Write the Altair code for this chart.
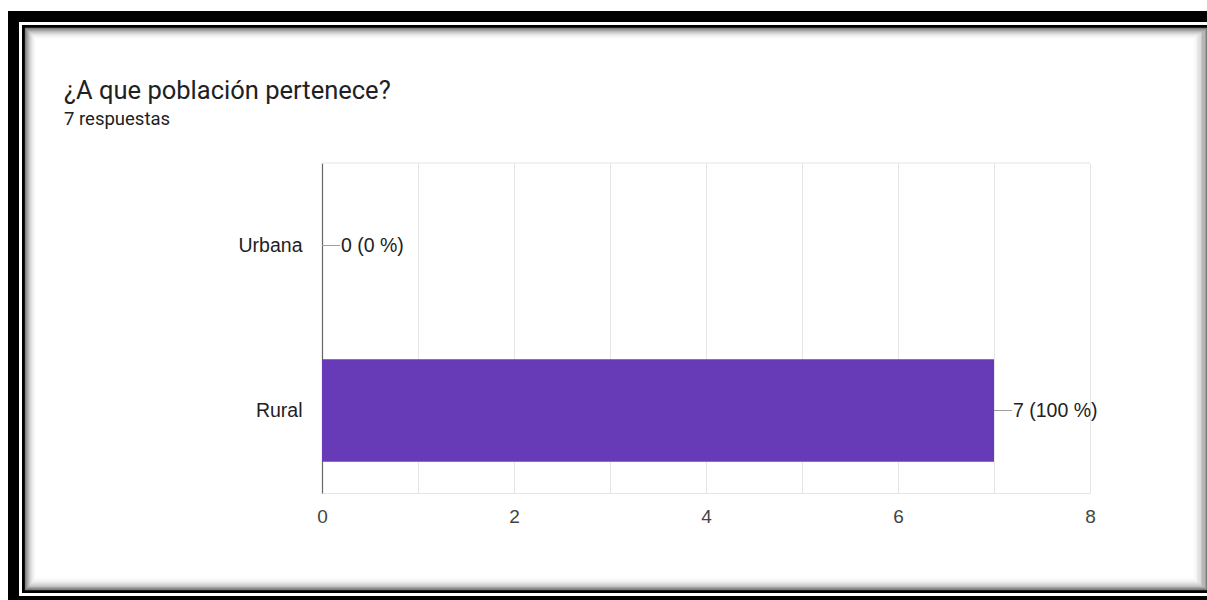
import altair as alt
import pandas as pd

# Survey answers
categories = ["Urbana", "Rural"]
counts = [0, 7]
percents = [0, 100]
x_ticks = [0, 1, 2, 3, 4, 5, 6, 7, 8]

title_text = "¿A que población pertenece?"
subtitle_text = "7 respuestas"

df = pd.DataFrame({"cat": categories, "n": counts, "pct": percents})
df["label"] = [f"{n} ({p} %)" for n, p in zip(counts, percents)]

W, H = 768, 330
PAD_L, PAD_T = 322, 163
one = alt.Data(values=[{}])


def ring(x1, y1, x2, y2, color, width):
    """A stroked rectangle placed in page pixels (relative to the plot origin)."""
    return alt.Chart(one).mark_rect(filled=False, stroke=color, strokeWidth=width).encode(
        x=alt.value(x1 - PAD_L), x2=alt.value(x2 - PAD_L),
        y=alt.value(y1 - PAD_T), y2=alt.value(y2 - PAD_T),
    )


# Frame: heavy black border, thin inner black line, soft inner shadow
frame = [
    ring(13.5, 16.5, 1215, 601.5, "black", 11),
    ring(23.5, 26.5, 1215, 591.5, "black", 3),
]
shades = ["#7c7c7c", "#909090", "#a3a3a3", "#b5b5b5", "#c6c6c6",
          "#d4d4d4", "#e0e0e0", "#eaeaea", "#f2f2f2", "#f8f8f8", "#fcfcfc"]
for i, c in enumerate(shades):
    frame.append(ring(25.5 + i, 28.5 + i, 1206.5 - 1.3 * i, 589.5 - 1.1 * i, c, 1.3))

title = alt.Chart(one).mark_text(
    text=title_text, align="left", baseline="alphabetic",
    font="Roboto", fontSize=25.5, color="#202124",
).encode(x=alt.value(64 - PAD_L), y=alt.value(99 - PAD_T))

subtitle = alt.Chart(one).mark_text(
    text=subtitle_text, align="left", baseline="alphabetic",
    font="Roboto", fontSize=18.5, color="#202124",
).encode(x=alt.value(64 - PAD_L), y=alt.value(125 - PAD_T))

top_line = alt.Chart(one).mark_rule(color="#e5e5e5").encode(
    x=alt.value(0), x2=alt.value(W), y=alt.value(0)
)

xscale = alt.Scale(domain=[0, 8], nice=False)
base = alt.Chart(df).encode(
    y=alt.Y(
        "cat:N", sort=categories, title=None,
        scale=alt.Scale(paddingInner=0.38, paddingOuter=0.19),
        axis=alt.Axis(
            ticks=False, domain=True, domainColor="#666666", domainWidth=1.2,
            labelPadding=20, labelFontSize=19.5, labelFont="Liberation Sans",
            labelColor="#222222", grid=False,
        ),
    )
)

bars = base.mark_bar(color="#673ab7").encode(
    x=alt.X(
        "n:Q", scale=xscale, title=None,
        axis=alt.Axis(
            values=x_ticks, format="d",
            labelExpr="datum.value % 2 == 0 ? datum.label : ''",
            grid=True, gridColor="#e5e5e5", domain=True, domainColor="#e5e5e5",
            ticks=False, labelPadding=14, labelFontSize=19, labelFlush=False,
            labelFont="Liberation Sans", labelColor="#444444",
        ),
    )
)

leaders = base.mark_rule(color="#9e9e9e", x2Offset=18).encode(
    x=alt.X("n:Q", scale=xscale), x2="n:Q"
)

labels = base.mark_text(
    align="left", baseline="middle", dx=19, fontSize=19.5,
    font="Liberation Sans", color="#222222",
).encode(x=alt.X("n:Q", scale=xscale), text="label:N")

chart = alt.layer(
    *frame, title, subtitle, top_line, bars, leaders, labels
).properties(
    width=W, height=H,
    padding={"left": PAD_L, "top": PAD_T, "right": 1207 - PAD_L - W, "bottom": 600 - PAD_T - H},
    autosize="none", background="white",
).configure_view(stroke=None)

chart.save("out.html", embed_options={"renderer": "svg", "actions": False})
